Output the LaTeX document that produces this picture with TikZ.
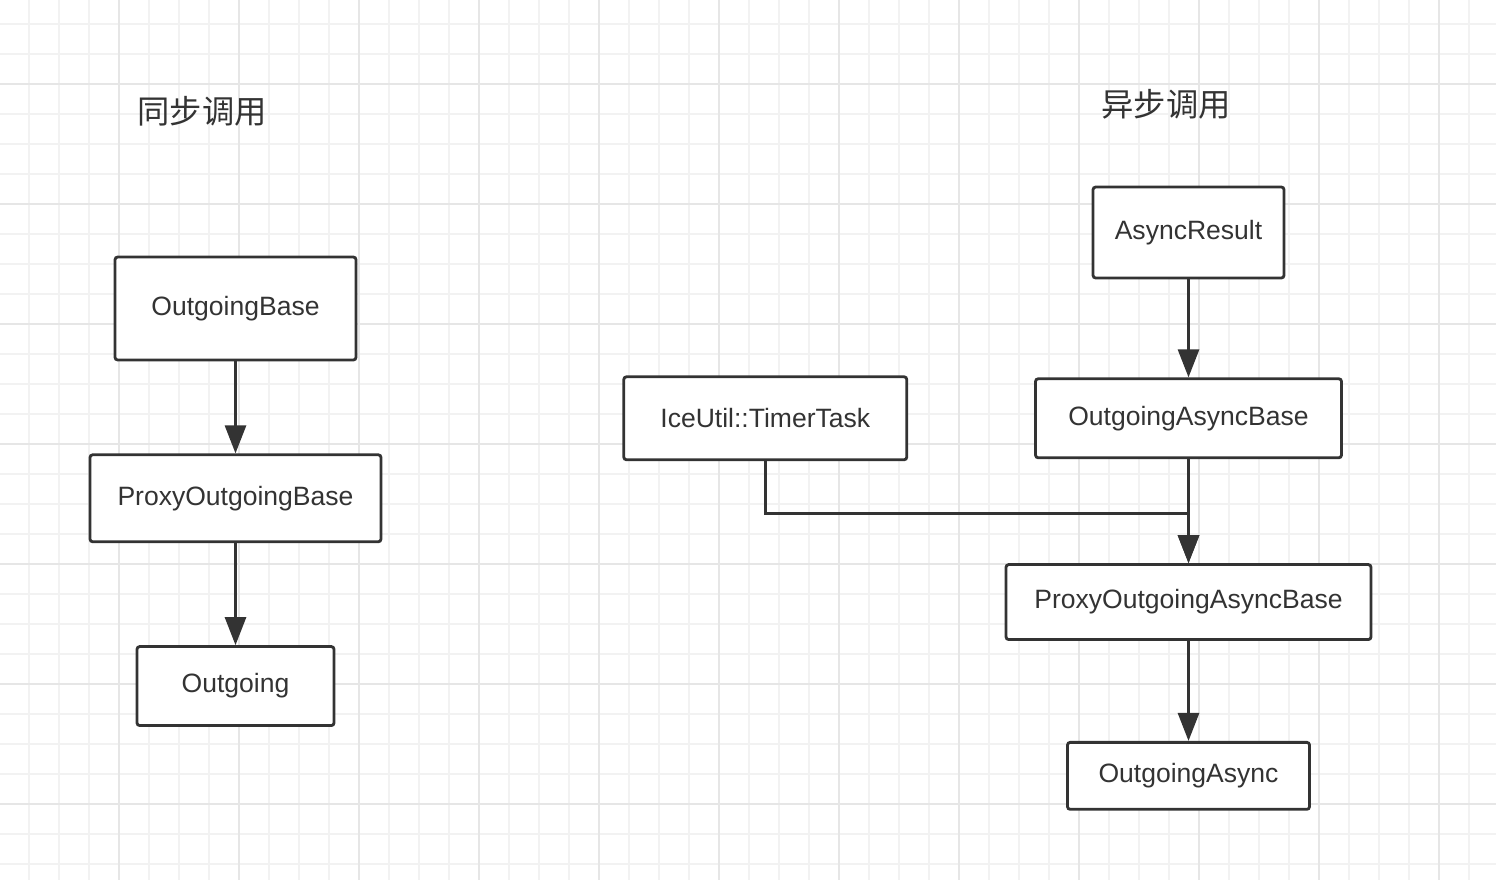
\documentclass[tikz,border=0pt]{standalone}
\usepackage{fontspec}
\setmainfont{Liberation Sans}
\newfontfamily\cjk{Noto Sans CJK SC}
\usetikzlibrary{arrows.meta,positioning,calc}
\definecolor{inkgray}{HTML}{333333}
\definecolor{gridminor}{HTML}{F2F2F2}
\definecolor{gridmajor}{HTML}{E6E6E6}
\tikzset{
  cls/.style={
    rectangle, rounded corners=1.5pt, draw=inkgray, line width=1.6pt,
    fill=white, text=inkgray, align=center,
    font=\fontsize{15.1}{18}\selectfont
  },
  title/.style={text=inkgray, font=\cjk\fontsize{18.4}{22}\selectfont},
  arr/.style={-{Triangle[length=0.56cm, width=0.42cm]}, line width=1.6pt,
              draw=inkgray}
}

\begin{document}
\begin{tikzpicture}[x=0.02cm, y=-0.02cm]
  \useasboundingbox (0,0) rectangle (1496,880);
  \fill[white] (0,0) rectangle (1496,880);

  % Background grid
  \foreach \x in {29,59,...,1469}
    \draw[gridminor, line width=1.1pt] (\x,0) -- (\x,880);
  \foreach \y in {24,54,...,864}
    \draw[gridminor, line width=1.1pt] (0,\y) -- (1496,\y);
  \foreach \x in {119,239,...,1439}
    \draw[gridmajor, line width=1.1pt] (\x,0) -- (\x,880);
  \foreach \y in {84,204,...,804}
    \draw[gridmajor, line width=1.1pt] (0,\y) -- (1496,\y);

  % Titles
  \node[title] (synctitle)  at (202,111) {同步调用};
  \node[title] (asynctitle) at (1166,104) {异步调用};

  % Synchronous call chain
  \node[cls, minimum width=4.82cm, minimum height=2.06cm]
    (obase) at (235.5,308.5) {OutgoingBase};
  \node[cls, minimum width=5.82cm, minimum height=1.74cm, below=1.84cm of obase]
    (pobase) {ProxyOutgoingBase};
  \node[cls, minimum width=3.94cm, minimum height=1.58cm, below=2.04cm of pobase]
    (outgoing) {Outgoing};

  % Asynchronous call chain
  \node[cls, minimum width=3.82cm, minimum height=1.82cm]
    (aresult) at (1188.5,232.5) {AsyncResult};
  \node[cls, minimum width=6.12cm, minimum height=1.58cm, below=1.96cm of aresult]
    (oabase) {OutgoingAsyncBase};
  \node[cls, minimum width=5.66cm, minimum height=1.66cm, left=2.52cm of oabase]
    (timer) {IceUtil::TimerTask};
  \node[cls, minimum width=7.3cm, minimum height=1.5cm, below=2.08cm of oabase]
    (poabase) {ProxyOutgoingAsyncBase};
  \node[cls, minimum width=4.84cm, minimum height=1.34cm, below=2cm of poabase]
    (oasync) {OutgoingAsync};

  \coordinate (merge) at ($(oabase.south)+(0,54)$);

  % Arrows
  \draw[arr] (obase) -- (pobase);
  \draw[arr] (pobase) -- (outgoing);
  \draw[arr] (aresult) -- (oabase);
  \draw[arr] (oabase) -- (poabase);
  \draw[arr] (timer.south) |- (merge) -- (poabase.north);
  \draw[arr] (poabase) -- (oasync);
\end{tikzpicture}
\end{document}
